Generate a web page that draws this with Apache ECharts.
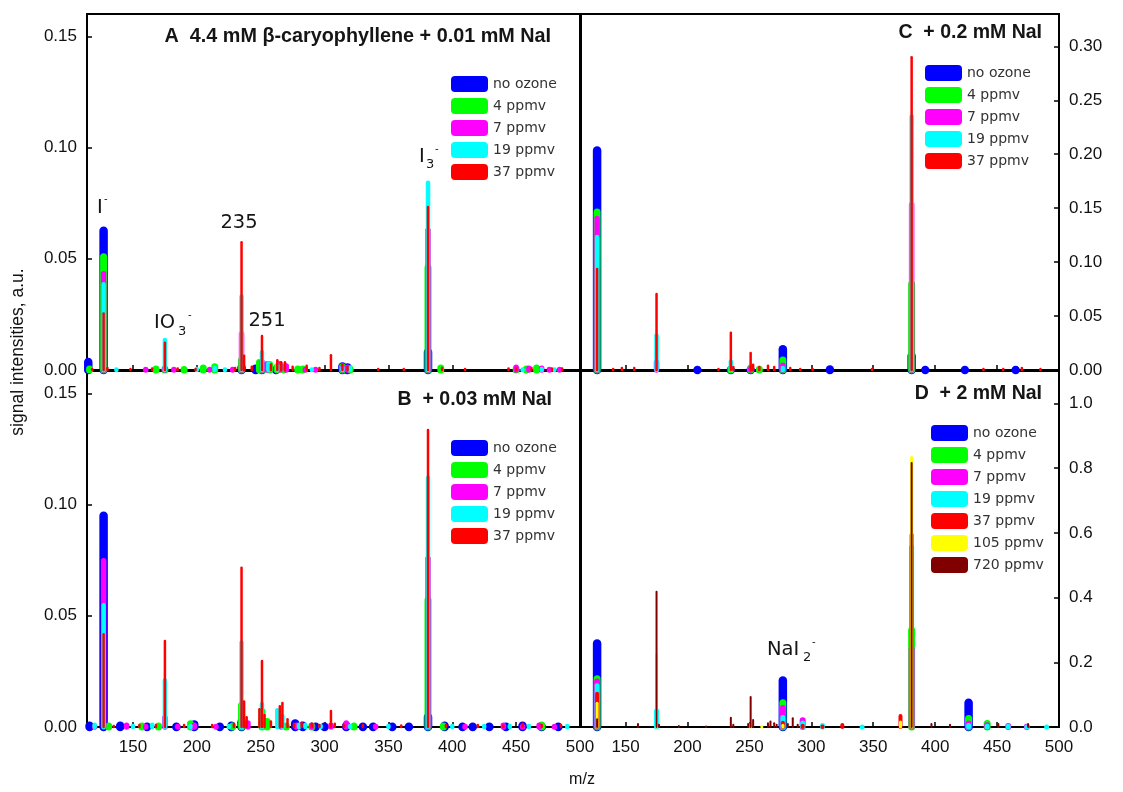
<!DOCTYPE html>
<html>
<head>
<meta charset="utf-8">
<script src="https://cdn.jsdelivr.net/npm/echarts@6/dist/echarts.min.js"></script>
<style>
html,body{margin:0;padding:0;background:#fff;}
#chart{width:1123px;height:792px;}
</style>
</head>
<body>
<div id="chart"></div>
<script>
// ---------- tick labels ----------
const xTicks = [150, 200, 250, 300, 350, 400, 450, 500];
const yTicksAB = [0, 0.05, 0.10, 0.15];
const yTicksC = [0, 0.05, 0.10, 0.15, 0.20, 0.25, 0.30];
const yTicksD = [0, 0.2, 0.4, 0.6, 0.8, 1.0];

// ---------- series names / colours ----------
const seriesNames = ['no ozone', '4 ppmv', '7 ppmv', '19 ppmv', '37 ppmv', '105 ppmv', '720 ppmv'];
const seriesColors = ['#0000ff', '#00ff00', '#ff00ff', '#00ffff', '#ff0000', '#ffff00', '#800000'];

// ---------- Panel A: 4.4 mM beta-caryophyllene + 0.01 mM NaI  [m/z, intensity] ----------
const A_noOzone = [[115,0.0055],[122,0.0015],[127,0.0645],[140,0.0015],[150,0.001],[175,0.001],[188,0.0012],[196,0.0015],[205,0.0015],[223,0.0015],[235,0.003],[246,0.0025],[251,0.003],[262,0.002],[279,0.0012],[288,0.0012],[314,0.0035],[318,0.003],[335,0.0015],[345,0.001],[381,0.010],[391,0.0015],[396,0.0015],[450,0.0013],[455,0.0015],[463,0.0012],[470,0.0015],[478,0.0015],[489,0.001]];
const A_4ppmv = [[116,0.002],[127,0.0525],[133,0.0012],[145,0.0015],[156,0.0015],[162,0.0015],[168,0.002],[175,0.002],[190,0.0018],[205,0.0025],[214,0.003],[225,0.0015],[235,0.006],[249,0.005],[251,0.004],[257,0.004],[263,0.003],[268,0.003],[279,0.002],[283,0.002],[293,0.0015],[300,0.0015],[314,0.003],[320,0.002],[360,0.0012],[381,0.0475],[391,0.0025],[395,0.0015],[450,0.002],[458,0.002],[466,0.0025],[482,0.0015],[489,0.0015]];
const A_7ppmv = [[127,0.0445],[141,0.0012],[156,0.0012],[160,0.0015],[175,0.002],[182,0.0015],[196,0.0012],[210,0.0015],[228,0.0015],[235,0.0175],[251,0.005],[255,0.004],[265,0.004],[270,0.003],[285,0.0015],[293,0.0015],[314,0.0025],[318,0.0025],[340,0.001],[381,0.064],[395,0.001],[450,0.0025],[460,0.002],[470,0.002],[476,0.0015],[484,0.0015]];
const A_19ppmv = [[127,0.0395],[137,0.0012],[152,0.001],[175,0.0145],[200,0.0015],[214,0.002],[222,0.0012],[235,0.034],[251,0.009],[256,0.004],[263,0.003],[290,0.0012],[314,0.002],[320,0.002],[350,0.001],[381,0.0852],[398,0.001],[455,0.0012],[470,0.0015],[480,0.0012]];
const A_37ppmv = [[118,0.001],[127,0.026],[130,0.0015],[148,0.001],[165,0.0012],[175,0.0128],[185,0.0012],[199,0.001],[230,0.0015],[235,0.058],[237,0.007],[243,0.002],[251,0.0158],[258,0.003],[263,0.005],[266,0.004],[269,0.004],[275,0.002],[286,0.0025],[296,0.0015],[305,0.0072],[314,0.003],[318,0.002],[342,0.001],[362,0.001],[381,0.0738],[392,0.0015],[410,0.001],[444,0.0012],[450,0.0015],[462,0.0015],[478,0.0012],[486,0.0012]];

// ---------- Panel B: + 0.03 mM NaI ----------
const B_noOzone = [[116,0.0025],[127,0.0969],[140,0.0025],[161,0.002],[184,0.002],[198,0.003],[218,0.002],[227,0.0025],[235,0.004],[277,0.0035],[283,0.0025],[293,0.002],[300,0.002],[317,0.0025],[330,0.002],[338,0.002],[353,0.002],[366,0.002],[381,0.0064],[394,0.0025],[408,0.002],[416,0.002],[429,0.002],[442,0.002],[455,0.0025],[470,0.002],[483,0.002],[494,0.0015]];
const B_4ppmv = [[131,0.002],[140,0.0015],[157,0.002],[170,0.002],[195,0.003],[210,0.0015],[228,0.002],[235,0.0114],[251,0.0085],[255,0.004],[270,0.002],[290,0.002],[300,0.0015],[323,0.002],[335,0.0015],[345,0.0015],[360,0.0015],[381,0.0587],[393,0.002],[405,0.0015],[430,0.0015],[455,0.0015],[470,0.0025],[485,0.0015]];
const B_7ppmv = [[120,0.0015],[127,0.0759],[145,0.002],[160,0.0015],[175,0.0054],[185,0.0015],[198,0.002],[215,0.0015],[240,0.003],[266,0.004],[278,0.002],[290,0.002],[305,0.002],[317,0.003],[340,0.0015],[381,0.077],[410,0.0015],[440,0.002],[455,0.0015],[468,0.002],[480,0.0015]];
const B_19ppmv = [[120,0.002],[127,0.0557],[150,0.0015],[165,0.002],[175,0.022],[195,0.0015],[225,0.0015],[235,0.039],[251,0.0114],[263,0.0085],[267,0.006],[280,0.002],[285,0.002],[297,0.0015],[320,0.0015],[350,0.0015],[381,0.113],[400,0.0015],[425,0.0015],[445,0.0015],[460,0.0015],[490,0.0015]];
const B_37ppmv = [[127,0.0423],[135,0.001],[155,0.0015],[168,0.0015],[175,0.0392],[190,0.0015],[212,0.0015],[229,0.002],[235,0.0721],[237,0.012],[239,0.005],[249,0.0085],[251,0.0302],[253,0.006],[258,0.003],[265,0.0099],[267,0.0114],[271,0.004],[276,0.002],[282,0.0025],[290,0.002],[296,0.0015],[305,0.0077],[308,0.002],[315,0.0015],[330,0.0015],[360,0.0012],[381,0.134],[395,0.0015],[420,0.0015],[440,0.0012],[455,0.002],[470,0.0015],[485,0.0015]];

// ---------- Panel C: + 0.2 mM NaI ----------
const C_noOzone = [[127,0.2075],[157,0.003],[167,0.003],[198,0.003],[208,0.004],[235,0.004],[251,0.004],[277,0.0232],[315,0.0045],[381,0.017],[392,0.004],[424,0.004],[465,0.004]];
const C_4ppmv = [[115,0.003],[127,0.1496],[140,0.003],[157,0.003],[166,0.003],[196,0.002],[235,0.004],[251,0.005],[258,0.004],[277,0.0124],[283,0.003],[357,0.003],[381,0.083],[424,0.002],[455,0.003],[470,0.003],[485,0.003]];
const C_7ppmv = [[127,0.143],[175,0.01],[251,0.004],[277,0.007],[291,0.002],[315,0.002],[381,0.156],[424,0.0015],[470,0.002]];
const C_19ppmv = [[127,0.1254],[175,0.034],[182,0.0015],[200,0.002],[235,0.01],[277,0.004],[381,0.237],[392,0.0015]];
const C_37ppmv = [[127,0.0948],[140,0.002],[147,0.003],[157,0.003],[175,0.0715],[225,0.002],[235,0.0356],[237,0.004],[251,0.017],[253,0.006],[258,0.004],[265,0.005],[270,0.004],[283,0.003],[291,0.002],[301,0.002],[349,0.002],[381,0.291],[439,0.002],[455,0.002],[470,0.003],[485,0.002]];

// ---------- Panel D: + 2 mM NaI ----------
const D_noOzone = [[127,0.271],[277,0.157],[381,0.012],[427,0.088]];
const D_4ppmv = [[127,0.160],[277,0.086],[293,0.008],[381,0.31],[427,0.037],[442,0.022],[459,0.008]];
const D_7ppmv = [[127,0.150],[277,0.068],[293,0.03],[325,0.008],[381,0.25],[427,0.02],[442,0.015],[459,0.012],[474,0.01]];
const D_19ppmv = [[127,0.135],[175,0.058],[277,0.037],[293,0.02],[309,0.012],[341,0.008],[381,0.564],[427,0.012],[442,0.01],[459,0.01],[474,0.008],[490,0.008]];
const D_37ppmv = [[127,0.109],[277,0.019],[293,0.01],[309,0.008],[325,0.012],[341,0.006],[372,0.04],[381,0.60],[427,0.006]];
const D_105ppmv = [[127,0.078],[175,0.227],[251,0.012],[260,0.006],[277,0.01],[372,0.02],[381,0.837]];
const D_720ppmv = [[127,0.027],[160,0.012],[175,0.421],[177,0.01],[193,0.006],[215,0.005],[235,0.032],[237,0.01],[249,0.012],[251,0.0957],[253,0.025],[265,0.015],[267,0.02],[270,0.015],[272,0.01],[281,0.012],[285,0.03],[289,0.01],[381,0.819],[397,0.012],[412,0.01],[451,0.012],[475,0.012]];

const panelData = [
  [A_noOzone, A_4ppmv, A_7ppmv, A_19ppmv, A_37ppmv],
  [C_noOzone, C_4ppmv, C_7ppmv, C_19ppmv, C_37ppmv],
  [B_noOzone, B_4ppmv, B_7ppmv, B_19ppmv, B_37ppmv],
  [D_noOzone, D_4ppmv, D_7ppmv, D_19ppmv, D_37ppmv, D_105ppmv, D_720ppmv]
];
const lineWidths5 = [8.5, 7, 5.5, 4.5, 2.5];
const lineWidths7 = [8.5, 7, 6, 5, 4, 3, 2];

const chart = echarts.init(document.getElementById('chart'));

function stickRenderer(color, w) {
  return function (params, api) {
    const x = api.value(0), y = api.value(1);
    const p0 = api.coord([x, 0]);
    const p1 = api.coord([x, y]);
    const topY = Math.min(p1[1] + w / 2, p0[1]);
    return {
      type: 'line',
      shape: { x1: p0[0], y1: p0[1], x2: p0[0], y2: topY },
      style: { stroke: color, lineWidth: w, lineCap: 'round' }
    };
  };
}

const series = [];
panelData.forEach((sets, pi) => {
  const widths = sets.length === 7 ? lineWidths7 : lineWidths5;
  sets.forEach((d, si) => {
    series.push({
      type: 'custom',
      name: seriesNames[si],
      xAxisIndex: pi,
      yAxisIndex: pi,
      clip: false,
      itemStyle: { color: seriesColors[si] },
      renderItem: stickRenderer(seriesColors[si], widths[si]),
      encode: { x: 0, y: 1 },
      data: d,
      z: 2 + si
    });
  });
});

const tickFont = { fontFamily: 'Liberation Sans', fontSize: 17, color: '#111' };

function xAxisCfg(gi, showLabel) {
  return {
    type: 'value', gridIndex: gi, min: 114, max: 500,
    axisLine: { show: true, lineStyle: { color: '#000', width: 2 } },
    axisTick: { show: true, inside: true, length: 5, customValues: xTicks, lineStyle: { color: '#000', width: 1.5 } },
    axisLabel: { show: showLabel, customValues: xTicks, margin: 12, ...tickFont },
    splitLine: { show: false }
  };
}
function yAxisCfg(gi, pos, max, ticks, digits) {
  return {
    type: 'value', gridIndex: gi, position: pos, min: 0, max: max,
    axisLine: { show: true, lineStyle: { color: '#000', width: 2 } },
    axisTick: { show: true, inside: true, length: 5, customValues: ticks, lineStyle: { color: '#000', width: 1.5 } },
    axisLabel: { show: true, customValues: ticks, margin: 10, formatter: v => v.toFixed(digits), ...tickFont },
    splitLine: { show: false }
  };
}

const gridBase = { show: true, borderColor: '#000', borderWidth: 2, backgroundColor: 'transparent' };
const legendBase = {
  orient: 'vertical', itemWidth: 37, itemHeight: 16, itemGap: 6, icon: 'roundRect',
  selectedMode: false, padding: 0,
  textStyle: { fontFamily: 'DejaVu Sans', fontSize: 14, color: '#333' }
};
const names5 = seriesNames.slice(0, 5);

function txt(x, y, s, size, align, weight) {
  return { type: 'text', x: x, y: y, z: 100,
    style: { text: s, fontFamily: weight ? 'Liberation Sans' : 'DejaVu Sans', fontSize: size, fontWeight: weight || 'normal',
      fill: '#151515', align: align || 'left', verticalAlign: 'middle' } };
}

const option = {
  animation: false,
  backgroundColor: '#fff',
  grid: [
    { ...gridBase, left: 87, top: 14, width: 493, height: 356 },
    { ...gridBase, left: 581, top: 14, width: 478, height: 356 },
    { ...gridBase, left: 87, top: 371, width: 493, height: 356 },
    { ...gridBase, left: 581, top: 371, width: 478, height: 356 }
  ],
  xAxis: [xAxisCfg(0, false), xAxisCfg(1, false), xAxisCfg(2, true), xAxisCfg(3, true)],
  yAxis: [
    yAxisCfg(0, 'left', 0.16, yTicksAB, 2),
    yAxisCfg(1, 'right', 0.33, yTicksC, 2),
    yAxisCfg(2, 'left', 0.16, yTicksAB, 2),
    yAxisCfg(3, 'right', 1.1, yTicksD, 1)
  ],
  legend: [
    { ...legendBase, data: names5, left: 451, top: 76 },
    { ...legendBase, data: names5, left: 925, top: 65 },
    { ...legendBase, data: names5, left: 451, top: 440 },
    { ...legendBase, data: seriesNames, left: 931, top: 425 }
  ],
  graphic: [
    txt(551, 37, 'A  4.4 mM \u03b2-caryophyllene + 0.01 mM NaI', 19.8, 'right', 'bold'),
    txt(1042, 33, 'C  + 0.2 mM NaI', 19.5, 'right', 'bold'),
    txt(552, 400, 'B  + 0.03 mM NaI', 19.5, 'right', 'bold'),
    txt(1042, 394, 'D  + 2 mM NaI', 19.5, 'right', 'bold'),
    // peak annotations
    txt(97, 208, 'I', 19.5), txt(104, 199, '-', 10),
    txt(154, 323, 'IO', 19.5), txt(178, 332, '3', 13), txt(188, 315, '-', 10),
    txt(239, 223, '235', 19.5, 'center'),
    txt(267, 321, '251', 19.5, 'center'),
    txt(419, 157, 'I', 19.5), txt(426, 165, '3', 13), txt(435, 149, '-', 10),
    txt(767, 650, 'NaI', 19.5), txt(803, 658, '2', 13), txt(812, 642, '-', 10),
    // axis titles
    { type: 'text', x: 18, y: 352, rotation: Math.PI / 2, z: 100,
      style: { text: 'signal intensities, a.u.', fontFamily: 'Liberation Sans', fontSize: 17.5, fill: '#111', align: 'center', verticalAlign: 'middle' } },
    { type: 'text', x: 582, y: 780, z: 100,
      style: { text: 'm/z', fontFamily: 'Liberation Sans', fontSize: 16, fill: '#111', align: 'center', verticalAlign: 'middle' } }
  ],
  series: series
};
chart.setOption(option);
</script>
</body>
</html>
